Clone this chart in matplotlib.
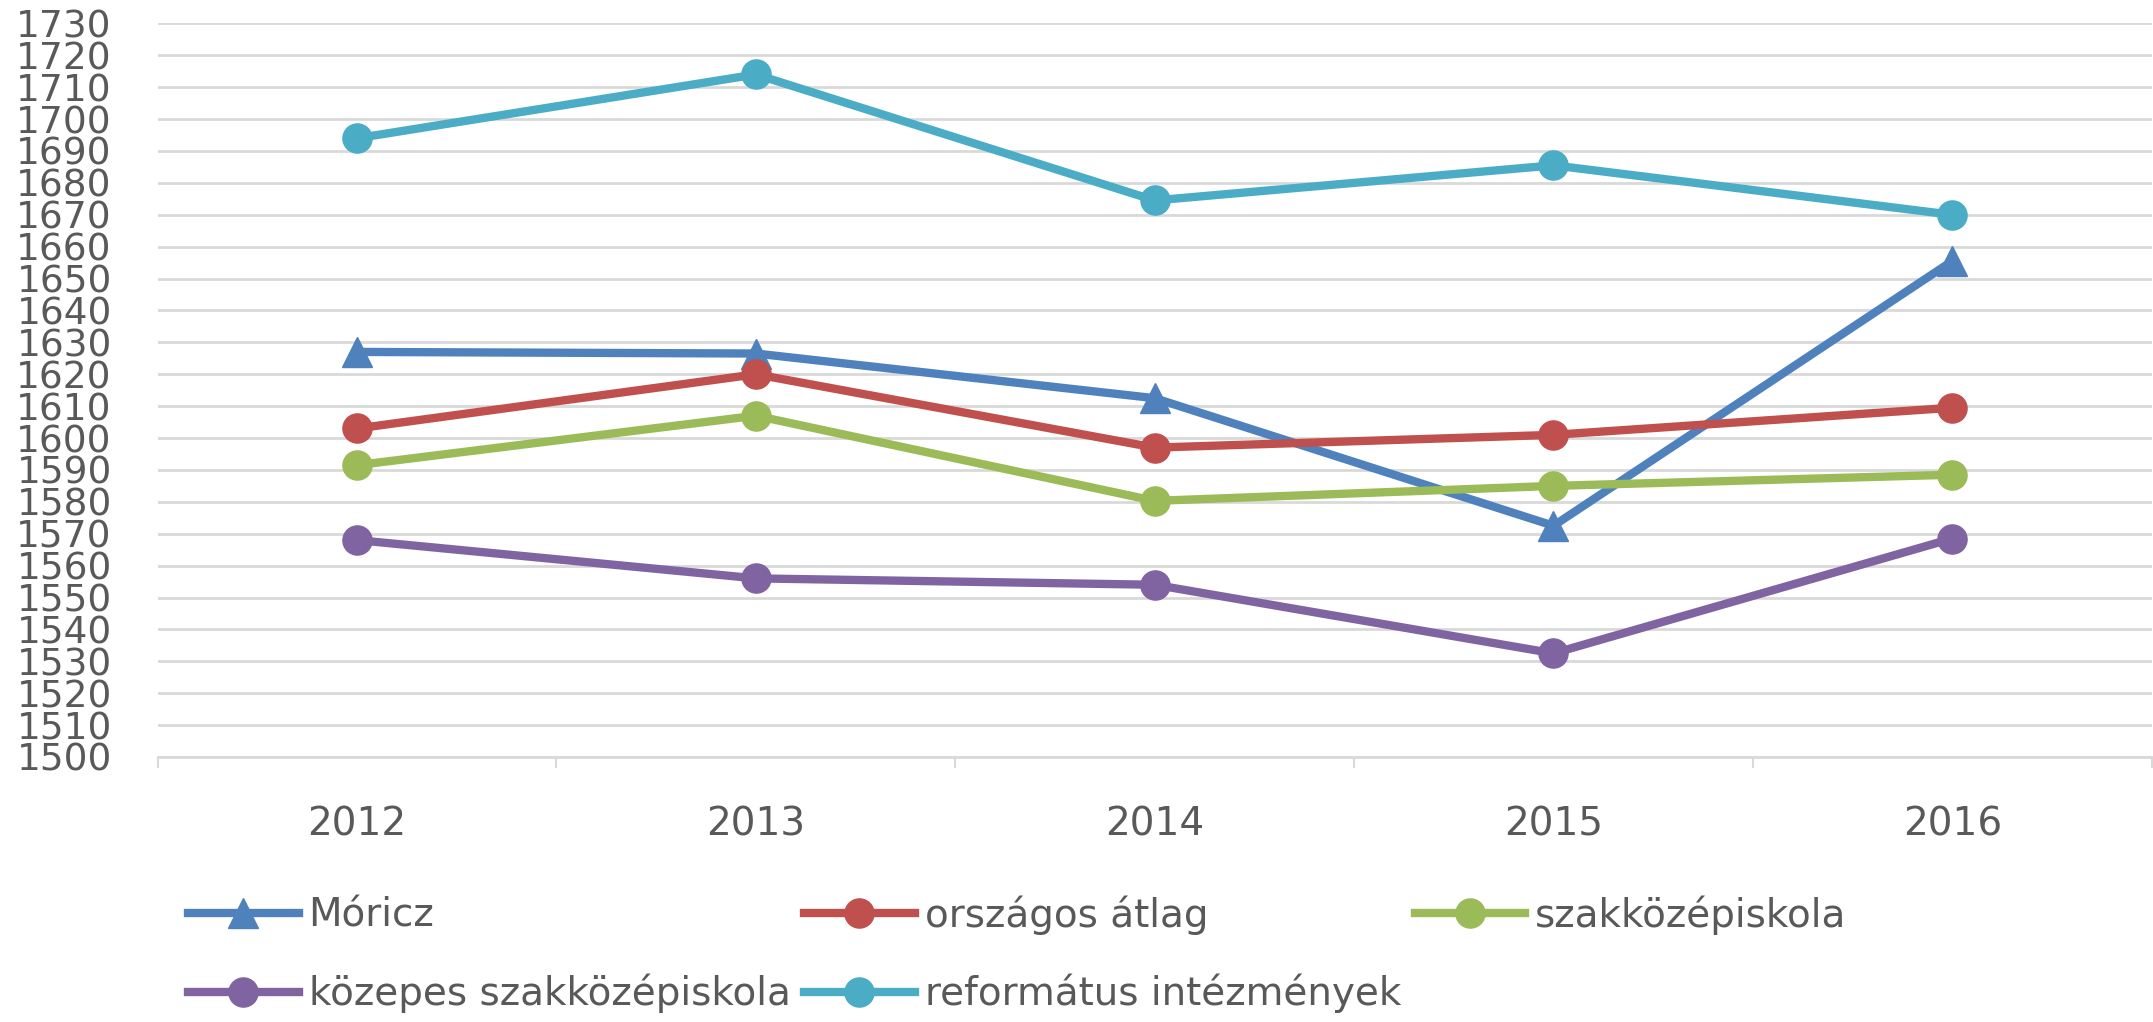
import matplotlib.pyplot as plt
import numpy as np

years = ['2012', '2013', '2014', '2015', '2016']
moricz = [1627, 1626.5, 1612.5, 1572.5, 1655.5]
orszagos = [1603, 1620, 1597, 1601, 1609.5]
szakkozep = [1591.5, 1607, 1580.3, 1585, 1588.5]
kozepes = [1568, 1556, 1554, 1532.5, 1568.5]
reformatus = [1694, 1714, 1674.5, 1685.5, 1670]

names = ['Móricz', 'országos átlag', 'szakközépiskola',
         'közepes szakközépiskola', 'református intézmények']
colors = ['#4F81BD', '#C0504D', '#9BBB59', '#8064A2', '#4BACC6']
markers = ['^', 'o', 'o', 'o', 'o']
series = [moricz, orszagos, szakkozep, kozepes, reformatus]

plt.rcParams['font.family'] = ['DejaVu Sans']
fig = plt.figure(figsize=(21.53, 10.22), dpi=100)
ax = fig.add_axes([0.0732, 0.2593, 0.9262, 0.7178])

x = np.arange(len(years))
lines = []
for vals, name, c, m in zip(series, names, colors, markers):
    ln, = ax.plot(x, vals, color=c, lw=6, marker=m, ms=21, label=name,
                  solid_joinstyle='round', zorder=3)
    lines.append(ln)

ax.set_xlim(-0.5, 4.5)
ax.set_ylim(1500, 1730)
ax.set_yticks(np.arange(1500, 1731, 10))
ax.set_xticks(x)
ax.set_xticklabels(years)
ax.set_xticks(np.arange(-0.5, 4.6, 1), minor=True)
ax.grid(axis='y', color='#D9D9D9', lw=2)
ax.set_axisbelow(True)
for s in ['top', 'right', 'left']:
    ax.spines[s].set_visible(False)
ax.spines['bottom'].set_color('#D9D9D9')
ax.spines['bottom'].set_linewidth(2)
ax.tick_params(axis='y', length=0, pad=33, labelsize=27, labelcolor='#595959')
ax.tick_params(axis='x', which='major', length=0, pad=35, labelsize=28,
               labelcolor='#595959')
ax.tick_params(axis='x', which='minor', length=8, width=1.5, color='#D9D9D9')

# legend in row order: col1 Móricz/közepes, col2 országos/református, col3 szakközép
order = [0, 3, 1, 4, 2]
fig.legend([lines[i] for i in order], [names[i] for i in order],
           loc='upper left', bbox_to_anchor=(0.0873, 0.124), ncol=3,
           frameon=False, fontsize=28, labelcolor='#595959',
           handlelength=2.85, handletextpad=0.25, columnspacing=0.35,
           labelspacing=1.0, borderpad=0, borderaxespad=0)

plt.savefig('out.png')
